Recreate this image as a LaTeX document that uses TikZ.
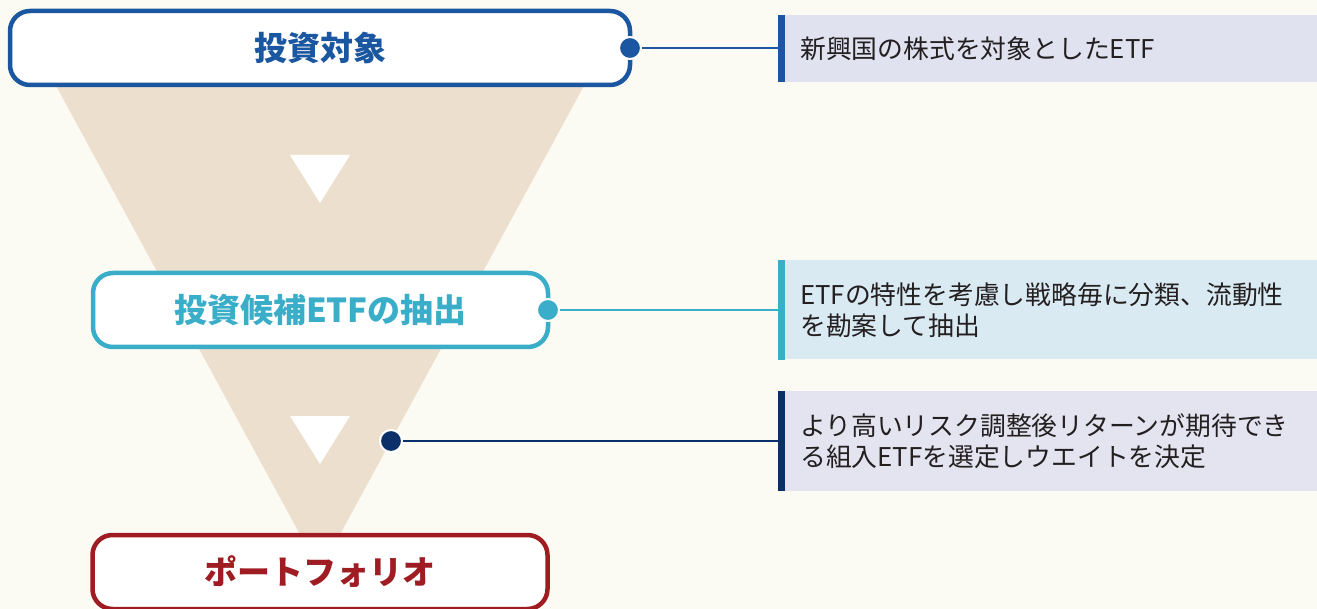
\documentclass[tikz,border=0pt]{standalone}
\usepackage{fontspec}
\setmainfont{Noto Sans CJK JP}
\definecolor{bgc}{HTML}{FCFBF3}
\definecolor{funnelc}{HTML}{EDDFCD}
\definecolor{cA}{HTML}{1A57A0}
\definecolor{cB}{HTML}{3AADC8}
\definecolor{cC}{HTML}{0B2F69}
\definecolor{cD}{HTML}{9E1C22}
\definecolor{pA}{HTML}{E0E2F0}
\definecolor{pB}{HTML}{DAEAF2}
\definecolor{pC}{HTML}{E3E4EF}
\definecolor{txt}{HTML}{231F20}
\tikzset{
  stagebox/.style={draw=#1, line width=4.5pt, rounded corners=20pt, fill=white,
    minimum width=455pt, minimum height=74pt, text=#1, inner sep=0pt,
    font=\fontsize{33}{40}\selectfont\bfseries},
  dotmark/.style={circle, fill=#1, draw=white, line width=2pt, minimum size=22pt, inner sep=0pt},
  panel/.style={fill=#1, anchor=west, text width=495pt, inner xsep=22pt, inner ysep=0pt,
    align=left, text=txt, font=\fontsize{25.8}{31}\selectfont},
  conn/.style={draw=#1, line width=2pt},
  arrowtri/.style={fill=white},
}
\begin{document}
\begin{tikzpicture}[x=1pt,y=-1pt]
\useasboundingbox (0,0) rectangle (1317,609);
\clip (0,0) rectangle (1317,609);
\fill[bgc] (0,0) rectangle (1317,609);
% funnel
\fill[funnelc] (42,60) -- (598,60) -- (337,540) -- (303,540) -- cycle;
\fill[arrowtri] (290,155) -- (350,155) -- (320,203) -- cycle;
\fill[arrowtri] (290,416) -- (350,416) -- (320,464) -- cycle;
% stage boxes
\node[stagebox=cA, minimum width=620pt] (s1) at (320,48) {投資対象};
\node[stagebox=cB] (s2) at (320.5,310) {投資候補ETFの抽出};
\node[stagebox=cD] (s3) at (320,572) {ポートフォリオ};
% panels
\node[panel=pA, minimum height=67pt] (p1) at (778,48.5) {新興国の株式を対象としたETF};
\node[panel=pB, minimum height=99pt] (p2) at (778,310) {ETFの特性を考慮し戦略毎に分類、流動性\\を勘案して抽出};
\node[panel=pC, minimum height=99pt] (p3) at (778,441) {より高いリスク調整後リターンが期待でき\\る組入ETFを選定しウエイトを決定};
\fill[cA] (p1.north west) rectangle ([xshift=7pt]p1.south west);
\fill[cB] (p2.north west) rectangle ([xshift=7pt]p2.south west);
\fill[cC] (p3.north west) rectangle ([xshift=7pt]p3.south west);
% dots
\node[dotmark=cA] (d1) at (630,48) {};
\node[dotmark=cB] (d2) at (548,310) {};
\node[dotmark=cC] (d3) at (391,441) {};
% connectors
\draw[conn=cA] (d1) -- (d1 -| p1.west);
\draw[conn=cB] (d2) -- (d2 -| p2.west);
\draw[conn=cC] (d3) -- (d3 -| p3.west);
\end{tikzpicture}
\end{document}
